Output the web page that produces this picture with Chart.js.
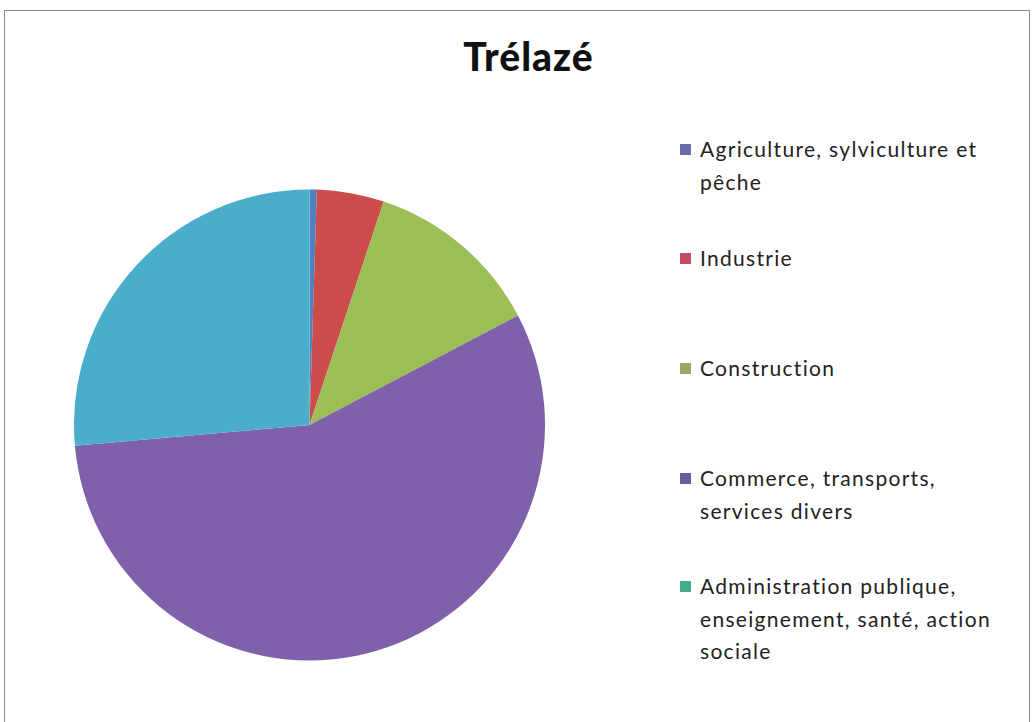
<!DOCTYPE html>
<html>
<head>
<meta charset="utf-8">
<script src="https://cdn.jsdelivr.net/npm/chart.js@4/dist/chart.umd.min.js"></script>
<style>
  html, body { margin: 0; padding: 0; background: #fff; }
  body { width: 1036px; height: 722px; position: relative; overflow: hidden; font-family: Lato, "Open Sans", sans-serif; }
  #cadre { position: absolute; left: 4px; top: 10px; width: 1026px; height: 740px; border: 1px solid #8c8c8c; box-sizing: border-box; }
  #titre { position: absolute; left: 400px; top: 33px; width: 256px; padding-left: 1px; box-sizing: border-box; text-align: center; font-weight: 900; font-size: 39px; letter-spacing: 1px; color: #111; }
  #camembert { position: absolute; left: 74px; top: 189px; width: 471px; height: 472px; }
  #legende { position: absolute; left: 680px; top: 0; }
  .item { position: absolute; left: 0; width: 350px; }
  .carre { position: absolute; left: 0; top: 11px; width: 11px; height: 11px; }
  .texte { position: absolute; left: 20px; width: 315px; font-size: 21px; line-height: 32.5px; color: #222; letter-spacing: 1.3px; }
</style>
</head>
<body>
<div id="cadre"></div>
<div id="titre"></div>
<div id="camembert"><canvas id="pieChart"></canvas></div>
<div id="legende"></div>
<script>
// Emplois par secteur d'activité (%)
const titre = 'Trélazé';
const secteurs = [
  'Agriculture, sylviculture et pêche',
  'Industrie',
  'Construction',
  'Commerce, transports, services divers',
  'Administration publique, enseignement, santé, action sociale'
];
const parts = [0.5, 4.6, 12.2, 56.3, 26.4];

// couleurs des parts et des carrés de la légende
const couleurs = ['#4f81bd', '#cc4b4b', '#9cbf55', '#7f61ab', '#4aadc9'];
const couleursLegende = ['#6a6cb0', '#c24c66', '#99a865', '#6a5c9c', '#3faf8c'];
const hautLegende = [133, 242, 352, 462, 570];

document.getElementById('titre').innerText = titre;

const legende = document.getElementById('legende');
secteurs.forEach((nom, i) => {
  const item = document.createElement('div');
  item.className = 'item';
  item.style.top = hautLegende[i] + 'px';
  const carre = document.createElement('div');
  carre.className = 'carre';
  carre.style.background = couleursLegende[i];
  const texte = document.createElement('div');
  texte.className = 'texte';
  texte.innerText = nom;
  item.appendChild(carre);
  item.appendChild(texte);
  legende.appendChild(item);
});

const ctx = document.getElementById('pieChart').getContext('2d');
new Chart(ctx, {
  type: 'pie',
  data: {
    labels: secteurs,
    datasets: [{
      data: parts,
      backgroundColor: couleurs,
      borderWidth: 0
    }]
  },
  options: {
    responsive: true,
    maintainAspectRatio: false,
    animation: false,
    layout: { padding: 0 },
    plugins: {
      legend: { display: false },
      tooltip: { enabled: false }
    }
  }
});
</script>
</body>
</html>
